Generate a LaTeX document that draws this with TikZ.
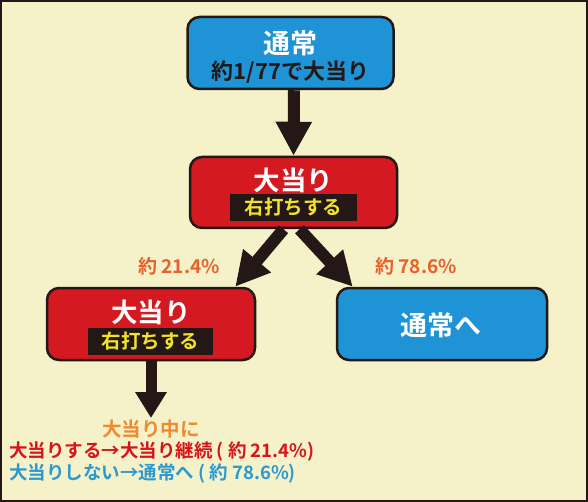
\documentclass[tikz,border=0pt]{standalone}
\usepackage{fontspec}
\setmainfont{Noto Sans CJK JP}[BoldFont={Noto Sans CJK JP Bold}]
\usetikzlibrary{arrows.meta,calc}
\definecolor{bg}{HTML}{F5F1C9}
\definecolor{boxblue}{HTML}{1E93D6}
\definecolor{boxred}{HTML}{D51920}
\definecolor{ink}{HTML}{231815}
\definecolor{yel}{HTML}{F2E32A}
\definecolor{pct}{HTML}{E8602C}
\definecolor{org}{HTML}{EE8A30}
\definecolor{txtred}{HTML}{D7141A}
\definecolor{txtblue}{HTML}{2B9AD1}
\tikzset{
  box/.style={draw=ink, line width=2.5pt, rounded corners=12pt, inner sep=0pt},
  band/.style={fill=ink, inner sep=0pt},
  fat/.style={draw=ink, line width=12pt, -{Triangle[length=34pt,width=34pt]}},
  lbl/.style={inner sep=0pt, font=\bfseries},
}
\begin{document}
\begin{tikzpicture}[x=1pt,y=-1pt]
\fill[bg] (0,0) rectangle (588,502);
\draw[ink, line width=2pt] (1,1) rectangle (587,501);
% boxes
\node[box, fill=boxblue, minimum width=206pt, minimum height=72pt] (n1) at (290.5,53) {};
\node[box, fill=boxred, minimum width=207pt, minimum height=71pt] (n2) at (293.5,192.5) {};
\node[box, fill=boxred, minimum width=208pt, minimum height=72pt] (n3) at (151,324) {};
\node[box, fill=boxblue, minimum width=210pt, minimum height=72pt] (n4) at (442,324) {};
% bands
\node[band, minimum width=127pt, minimum height=27pt] (b2) at (293.5,207.5) {};
\node[band, minimum width=125pt, minimum height=27pt] (b3) at (150.5,341.5) {};
% texts
\node[lbl, text=white, font=\bfseries\fontsize{27}{27}\selectfont] (t1) at (290.5,43) {通常};
\node[lbl, text=ink, font=\bfseries\fontsize{22}{22}\selectfont] (t1b) at (290.5,72) {約1/77で大当り};
\node[lbl, text=white, font=\bfseries\fontsize{26.5}{26.5}\selectfont] (t2) at (293.5,180) {大当り};
\node[lbl, text=yel, font=\bfseries\fontsize{19.5}{19.5}\selectfont] (t2b) at (293.5,207.5) {右打ちする};
\node[lbl, text=white, font=\bfseries\fontsize{26.5}{26.5}\selectfont] (t3) at (151,312) {大当り};
\node[lbl, text=yel, font=\bfseries\fontsize{19.5}{19.5}\selectfont] (t3b) at (150.5,341.5) {右打ちする};
\node[lbl, text=white, font=\bfseries\fontsize{27}{27}\selectfont] (t4) at (441,325) {通常へ};
\node[lbl, text=pct, font=\bfseries\fontsize{19}{19}\selectfont] (p1) at (179,266) {約 21.4\%};
\node[lbl, text=pct, font=\bfseries\fontsize{19}{19}\selectfont] (p2) at (416,266) {約 78.6\%};
\node[lbl, text=org, font=\bfseries\fontsize{19.5}{19.5}\selectfont] (m0) at (151,429) {大当り中に};
\node[lbl, text=txtred, font=\bfseries\fontsize{18.5}{18.5}\selectfont, anchor=west] (m1) at (9,452) {大当りする→大当り継続 ( 約 21.4\%)};
\node[lbl, text=txtblue, font=\bfseries\fontsize{18.5}{18.5}\selectfont, anchor=west] (m2) at (9,474) {大当りしない→通常へ ( 約 78.6\%)};
% connectors
\coordinate (s2l) at ($(n2.south)+(-10,0)$);
\coordinate (s2r) at ($(n2.south)+(6,0)$);
\coordinate (e3) at ($(n3.north east)+(-21,0)$);
\coordinate (e4) at ($(n4.north west)+(17,0)$);
\coordinate (e5) at (151,418);
\draw[fat] ($(n1.south)+(3.5,0)$) -- (n2.north);
\draw[fat] (s2l) -- (e3);
\draw[fat] (s2r) -- (e4);
\draw[ink, line width=11pt, -{Triangle[length=26pt,width=30pt]}] (n3.south) -- (e5);
\end{tikzpicture}
\end{document}
